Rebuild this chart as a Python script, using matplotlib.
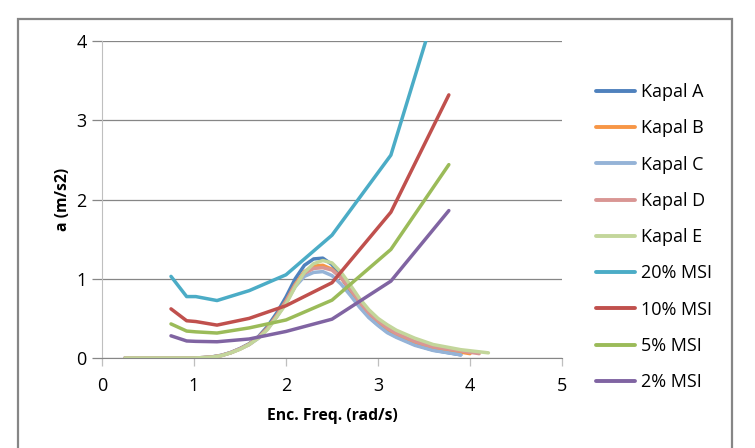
import matplotlib
matplotlib.use("Agg")
import matplotlib.pyplot as plt
from matplotlib.patches import Rectangle

plt.rcParams['font.family'] = ['Open Sans', 'DejaVu Sans']

# ---- data ----
kapal_x = [0.25, 0.5, 0.75, 1.0, 1.1, 1.2, 1.3, 1.4, 1.5, 1.6, 1.7, 1.8, 1.9, 2.0, 2.1, 2.2,
           2.3, 2.4, 2.5, 2.6, 2.7, 2.8, 2.9, 3.0, 3.1, 3.2, 3.4, 3.6, 3.9]
kapal_A = [0, 0, 0, 0, 0.005, 0.015, 0.035, 0.07, 0.12, 0.18, 0.27, 0.40, 0.57, 0.77, 1.00, 1.17,
           1.25, 1.26, 1.18, 1.02, 0.84, 0.67, 0.52, 0.42, 0.33, 0.27, 0.17, 0.10, 0.04]
kapal_C = [0, 0, 0, 0, 0.005, 0.013, 0.032, 0.067, 0.115, 0.17, 0.25, 0.37, 0.52, 0.70, 0.90, 1.03,
           1.08, 1.09, 1.04, 0.93, 0.79, 0.64, 0.51, 0.41, 0.32, 0.26, 0.16, 0.095, 0.04]

kapal_x_B = [0.25, 0.5, 0.75, 1.0, 1.1, 1.2, 1.3, 1.4, 1.5, 1.6, 1.7, 1.8, 1.9, 2.0, 2.1, 2.2,
             2.3, 2.4, 2.5, 2.6, 2.7, 2.8, 2.9, 3.0, 3.1, 3.2, 3.4, 3.6, 4.0]
kapal_B = [0, 0, 0, 0, 0.005, 0.013, 0.032, 0.067, 0.115, 0.175, 0.26, 0.38, 0.54, 0.72, 0.93, 1.09,
           1.16, 1.17, 1.12, 1.01, 0.86, 0.70, 0.56, 0.46, 0.37, 0.30, 0.20, 0.13, 0.055]

kapal_x_D = [0.25, 0.5, 0.75, 1.0, 1.1, 1.2, 1.3, 1.4, 1.5, 1.6, 1.7, 1.8, 1.9, 2.0, 2.1, 2.2,
             2.3, 2.4, 2.5, 2.6, 2.7, 2.8, 2.9, 3.0, 3.1, 3.2, 3.4, 3.6, 4.1]
kapal_D = [0, 0, 0, 0, 0.005, 0.013, 0.032, 0.067, 0.115, 0.17, 0.26, 0.37, 0.53, 0.71, 0.92, 1.07,
           1.13, 1.14, 1.11, 1.01, 0.87, 0.71, 0.57, 0.47, 0.38, 0.31, 0.21, 0.14, 0.055]

kapal_x_E = [0.25, 0.5, 0.75, 1.0, 1.1, 1.2, 1.3, 1.4, 1.5, 1.6, 1.7, 1.8, 1.9, 2.0, 2.1, 2.2,
             2.3, 2.4, 2.5, 2.6, 2.7, 2.8, 2.9, 3.0, 3.1, 3.2, 3.4, 3.6, 3.9, 4.2]
kapal_E = [0, 0, 0, 0, 0.005, 0.012, 0.03, 0.065, 0.11, 0.17, 0.25, 0.36, 0.52, 0.68, 0.90, 1.08,
           1.19, 1.23, 1.20, 1.08, 0.92, 0.75, 0.61, 0.50, 0.42, 0.35, 0.25, 0.17, 0.105, 0.065]

msi_x = [0.75, 0.92, 1.02, 1.25, 1.6, 2.0, 2.5, 3.14, 3.77]
msi20 = [1.03, 0.775, 0.775, 0.725, 0.85, 1.05, 1.55, 2.56, 4.95]
msi10 = [0.62, 0.47, 0.46, 0.415, 0.50, 0.66, 0.95, 1.84, 3.32]
msi5 = [0.43, 0.34, 0.33, 0.315, 0.38, 0.48, 0.73, 1.37, 2.44]
msi2 = [0.28, 0.215, 0.21, 0.205, 0.24, 0.335, 0.49, 0.97, 1.86]

series = [
    ("Kapal A", kapal_x, kapal_A, "#4F81BD"),
    ("Kapal B", kapal_x_B, kapal_B, "#F79646"),
    ("Kapal C", kapal_x, kapal_C, "#95B3D7"),
    ("Kapal D", kapal_x_D, kapal_D, "#D99694"),
    ("Kapal E", kapal_x_E, kapal_E, "#C3D69B"),
    ("20% MSI", msi_x, msi20, "#4BACC6"),
    ("10% MSI", msi_x, msi10, "#C0504D"),
    ("5% MSI", msi_x, msi5, "#9BBB59"),
    ("2% MSI", msi_x, msi2, "#8064A2"),
]

x_ticks = [0, 1, 2, 3, 4, 5]
y_ticks = [0, 1, 2, 3, 4]

fig = plt.figure(figsize=(7.55, 4.48), dpi=100)
ax = fig.add_axes([102/755, 1-358/448, 460/755, 317/448])

for name, xs, ys, c in series:
    ax.plot(xs, ys, color=c, lw=2.5, label=name, solid_capstyle='round', solid_joinstyle='round')

ax.set_xlim(0, 5)
ax.set_ylim(0, 4)
ax.set_xticks(x_ticks)
ax.set_yticks(y_ticks)
ax.yaxis.grid(True, color='#868686', lw=0.9)
ax.set_axisbelow(True)
for s in ['top', 'right']:
    ax.spines[s].set_visible(False)
ax.spines['left'].set_color('#BFBFBF')
ax.spines['bottom'].set_color('#868686')
ax.tick_params(axis='y', colors='#868686', length=7, width=0.9, labelcolor='#000000', labelsize=13, pad=4)
ax.tick_params(axis='x', colors='#BFBFBF', length=6, width=0.9, labelcolor='#000000', labelsize=13, pad=8)

ax.set_xlabel("Enc. Freq. (rad/s)", fontsize=11.3, fontweight='bold', labelpad=9)
ax.set_ylabel("a (m/s2)", fontsize=11.3, fontweight='bold', labelpad=4)

leg = fig.legend(loc='upper left', bbox_to_anchor=(589/755, 1-76/448), frameon=False,
                 fontsize=13, handlelength=2.15, handletextpad=0.35, labelspacing=1.01,
                 borderaxespad=0)
for line in leg.get_lines():
    line.set_linewidth(2.8)

fig.patches.append(Rectangle((18/755, -0.1), (732-18)/755, (1-19/448)+0.1,
                             transform=fig.transFigure, fill=False, ec='#868686', lw=1.6))

fig.savefig("out.png", dpi=100)
